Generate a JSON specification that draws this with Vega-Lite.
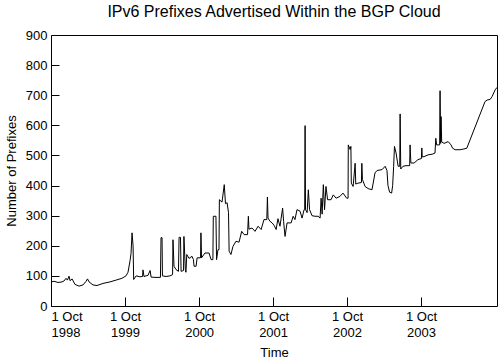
{
  "$schema": "https://vega.github.io/schema/vega-lite/v6.json",
  "width": 446,
  "height": 271,
  "autosize": "none",
  "padding": {"left": 51, "top": 35, "right": 3, "bottom": 54},
  "background": "white",
  "title": {"text": "IPv6 Prefixes Advertised Within the BGP Cloud", "font": "Liberation Sans", "fontSize": 16, "fontWeight": "normal", "color": "black", "anchor": "middle", "offset": 9},
  "config": {
    "view": {"stroke": "black", "strokeWidth": 1},
    "axis": {"labelFont": "Liberation Sans", "titleFont": "Liberation Sans", "labelFontSize": 13, "titleFontSize": 13, "titleFontWeight": "normal", "labelColor": "black", "titleColor": "black", "tickColor": "black", "domain": false, "grid": false}
  },
  "data": {"values": [
    {"date": "1998-10-01", "prefixes": 80},
    {"date": "1998-10-16", "prefixes": 82},
    {"date": "1998-11-05", "prefixes": 78},
    {"date": "1998-11-24", "prefixes": 80},
    {"date": "1998-12-04", "prefixes": 83},
    {"date": "1998-12-14", "prefixes": 92},
    {"date": "1998-12-21", "prefixes": 86},
    {"date": "1998-12-29", "prefixes": 99},
    {"date": "1999-01-03", "prefixes": 84},
    {"date": "1999-01-13", "prefixes": 90},
    {"date": "1999-01-27", "prefixes": 72},
    {"date": "1999-02-16", "prefixes": 66},
    {"date": "1999-03-08", "prefixes": 70},
    {"date": "1999-03-23", "prefixes": 82},
    {"date": "1999-03-30", "prefixes": 90},
    {"date": "1999-04-07", "prefixes": 80},
    {"date": "1999-04-26", "prefixes": 70},
    {"date": "1999-05-16", "prefixes": 68},
    {"date": "1999-06-15", "prefixes": 75},
    {"date": "1999-07-19", "prefixes": 80},
    {"date": "1999-08-18", "prefixes": 86},
    {"date": "1999-09-16", "prefixes": 92},
    {"date": "1999-10-06", "prefixes": 100},
    {"date": "1999-10-16", "prefixes": 112},
    {"date": "1999-10-26", "prefixes": 150},
    {"date": "1999-10-31", "prefixes": 175},
    {"date": "1999-11-05", "prefixes": 243},
    {"date": "1999-11-10", "prefixes": 200},
    {"date": "1999-11-13", "prefixes": 88},
    {"date": "1999-11-25", "prefixes": 100},
    {"date": "1999-12-14", "prefixes": 97},
    {"date": "1999-12-27", "prefixes": 98},
    {"date": "1999-12-29", "prefixes": 120},
    {"date": "2000-01-03", "prefixes": 98},
    {"date": "2000-01-23", "prefixes": 102},
    {"date": "2000-02-02", "prefixes": 118},
    {"date": "2000-02-07", "prefixes": 96},
    {"date": "2000-02-26", "prefixes": 95},
    {"date": "2000-03-24", "prefixes": 95},
    {"date": "2000-03-27", "prefixes": 227},
    {"date": "2000-04-01", "prefixes": 227},
    {"date": "2000-04-03", "prefixes": 100},
    {"date": "2000-04-21", "prefixes": 98},
    {"date": "2000-05-10", "prefixes": 100},
    {"date": "2000-05-23", "prefixes": 104},
    {"date": "2000-05-25", "prefixes": 220},
    {"date": "2000-05-30", "prefixes": 132},
    {"date": "2000-06-09", "prefixes": 121},
    {"date": "2000-06-21", "prefixes": 115},
    {"date": "2000-06-24", "prefixes": 228},
    {"date": "2000-07-01", "prefixes": 228},
    {"date": "2000-07-04", "prefixes": 115},
    {"date": "2000-07-16", "prefixes": 118},
    {"date": "2000-07-18", "prefixes": 231},
    {"date": "2000-07-25", "prefixes": 121},
    {"date": "2000-07-28", "prefixes": 112},
    {"date": "2000-08-01", "prefixes": 171},
    {"date": "2000-08-12", "prefixes": 158},
    {"date": "2000-08-27", "prefixes": 165},
    {"date": "2000-09-03", "prefixes": 154},
    {"date": "2000-09-06", "prefixes": 132},
    {"date": "2000-09-16", "prefixes": 132},
    {"date": "2000-09-21", "prefixes": 160},
    {"date": "2000-10-08", "prefixes": 160},
    {"date": "2000-10-10", "prefixes": 243},
    {"date": "2000-10-13", "prefixes": 160},
    {"date": "2000-10-30", "prefixes": 176},
    {"date": "2000-11-19", "prefixes": 176},
    {"date": "2000-11-29", "prefixes": 154},
    {"date": "2000-12-08", "prefixes": 154},
    {"date": "2000-12-10", "prefixes": 298},
    {"date": "2000-12-23", "prefixes": 298},
    {"date": "2000-12-26", "prefixes": 154},
    {"date": "2001-01-02", "prefixes": 187},
    {"date": "2001-01-07", "prefixes": 187},
    {"date": "2001-01-09", "prefixes": 353},
    {"date": "2001-01-22", "prefixes": 345},
    {"date": "2001-02-02", "prefixes": 403},
    {"date": "2001-02-08", "prefixes": 340},
    {"date": "2001-02-16", "prefixes": 343},
    {"date": "2001-02-23", "prefixes": 310},
    {"date": "2001-02-26", "prefixes": 182},
    {"date": "2001-03-07", "prefixes": 171},
    {"date": "2001-03-17", "prefixes": 198},
    {"date": "2001-04-01", "prefixes": 215},
    {"date": "2001-04-16", "prefixes": 212},
    {"date": "2001-04-29", "prefixes": 248},
    {"date": "2001-05-11", "prefixes": 237},
    {"date": "2001-05-28", "prefixes": 237},
    {"date": "2001-06-01", "prefixes": 298},
    {"date": "2001-06-04", "prefixes": 255},
    {"date": "2001-06-19", "prefixes": 259},
    {"date": "2001-07-04", "prefixes": 248},
    {"date": "2001-07-19", "prefixes": 265},
    {"date": "2001-08-03", "prefixes": 254},
    {"date": "2001-08-17", "prefixes": 287},
    {"date": "2001-08-31", "prefixes": 287},
    {"date": "2001-09-03", "prefixes": 362},
    {"date": "2001-09-06", "prefixes": 292},
    {"date": "2001-09-16", "prefixes": 281},
    {"date": "2001-09-26", "prefixes": 276},
    {"date": "2001-10-06", "prefixes": 268},
    {"date": "2001-10-16", "prefixes": 254},
    {"date": "2001-10-25", "prefixes": 290},
    {"date": "2001-11-04", "prefixes": 265},
    {"date": "2001-11-17", "prefixes": 325},
    {"date": "2001-11-22", "prefixes": 280},
    {"date": "2001-11-29", "prefixes": 231},
    {"date": "2001-12-09", "prefixes": 276},
    {"date": "2001-12-29", "prefixes": 276},
    {"date": "2002-01-08", "prefixes": 298},
    {"date": "2002-01-17", "prefixes": 287},
    {"date": "2002-01-27", "prefixes": 320},
    {"date": "2002-02-11", "prefixes": 315},
    {"date": "2002-02-21", "prefixes": 292},
    {"date": "2002-03-03", "prefixes": 320},
    {"date": "2002-03-06", "prefixes": 320},
    {"date": "2002-03-08", "prefixes": 599},
    {"date": "2002-03-10", "prefixes": 320},
    {"date": "2002-03-18", "prefixes": 310},
    {"date": "2002-03-24", "prefixes": 386},
    {"date": "2002-03-30", "prefixes": 320},
    {"date": "2002-04-11", "prefixes": 300},
    {"date": "2002-04-26", "prefixes": 298},
    {"date": "2002-05-11", "prefixes": 298},
    {"date": "2002-05-21", "prefixes": 292},
    {"date": "2002-05-26", "prefixes": 358},
    {"date": "2002-05-31", "prefixes": 305},
    {"date": "2002-06-06", "prefixes": 403},
    {"date": "2002-06-12", "prefixes": 320},
    {"date": "2002-06-19", "prefixes": 397},
    {"date": "2002-06-27", "prefixes": 353},
    {"date": "2002-07-14", "prefixes": 353},
    {"date": "2002-07-25", "prefixes": 369},
    {"date": "2002-08-08", "prefixes": 358},
    {"date": "2002-08-27", "prefixes": 364},
    {"date": "2002-09-11", "prefixes": 375},
    {"date": "2002-09-29", "prefixes": 358},
    {"date": "2002-10-06", "prefixes": 358},
    {"date": "2002-10-07", "prefixes": 535},
    {"date": "2002-10-16", "prefixes": 520},
    {"date": "2002-10-20", "prefixes": 530},
    {"date": "2002-10-22", "prefixes": 408},
    {"date": "2002-10-31", "prefixes": 397},
    {"date": "2002-11-10", "prefixes": 474},
    {"date": "2002-11-13", "prefixes": 405},
    {"date": "2002-11-24", "prefixes": 408},
    {"date": "2002-12-11", "prefixes": 410},
    {"date": "2002-12-13", "prefixes": 474},
    {"date": "2002-12-16", "prefixes": 420},
    {"date": "2002-12-29", "prefixes": 397},
    {"date": "2003-01-13", "prefixes": 390},
    {"date": "2003-02-01", "prefixes": 386},
    {"date": "2003-02-16", "prefixes": 442},
    {"date": "2003-02-26", "prefixes": 450},
    {"date": "2003-03-23", "prefixes": 453},
    {"date": "2003-04-07", "prefixes": 464},
    {"date": "2003-04-16", "prefixes": 450},
    {"date": "2003-04-21", "prefixes": 400},
    {"date": "2003-04-29", "prefixes": 378},
    {"date": "2003-05-09", "prefixes": 375},
    {"date": "2003-05-14", "prefixes": 400},
    {"date": "2003-05-19", "prefixes": 464},
    {"date": "2003-05-23", "prefixes": 530},
    {"date": "2003-05-31", "prefixes": 508},
    {"date": "2003-06-10", "prefixes": 464},
    {"date": "2003-06-18", "prefixes": 464},
    {"date": "2003-06-20", "prefixes": 638},
    {"date": "2003-06-23", "prefixes": 455},
    {"date": "2003-07-04", "prefixes": 464},
    {"date": "2003-07-19", "prefixes": 466},
    {"date": "2003-08-06", "prefixes": 466},
    {"date": "2003-08-08", "prefixes": 535},
    {"date": "2003-08-12", "prefixes": 475},
    {"date": "2003-08-28", "prefixes": 475},
    {"date": "2003-09-16", "prefixes": 486},
    {"date": "2003-10-03", "prefixes": 490},
    {"date": "2003-10-05", "prefixes": 525},
    {"date": "2003-10-07", "prefixes": 495},
    {"date": "2003-10-16", "prefixes": 496},
    {"date": "2003-11-05", "prefixes": 502},
    {"date": "2003-11-25", "prefixes": 504},
    {"date": "2003-12-09", "prefixes": 508},
    {"date": "2003-12-13", "prefixes": 557},
    {"date": "2003-12-17", "prefixes": 535},
    {"date": "2004-01-01", "prefixes": 535},
    {"date": "2004-01-03", "prefixes": 715},
    {"date": "2004-01-06", "prefixes": 540},
    {"date": "2004-01-08", "prefixes": 629},
    {"date": "2004-01-11", "prefixes": 545},
    {"date": "2004-01-23", "prefixes": 540},
    {"date": "2004-02-12", "prefixes": 546},
    {"date": "2004-02-26", "prefixes": 535},
    {"date": "2004-03-05", "prefixes": 524},
    {"date": "2004-03-17", "prefixes": 519},
    {"date": "2004-04-11", "prefixes": 519},
    {"date": "2004-04-26", "prefixes": 521},
    {"date": "2004-05-14", "prefixes": 524},
    {"date": "2004-08-12", "prefixes": 679},
    {"date": "2004-08-22", "prefixes": 684},
    {"date": "2004-09-06", "prefixes": 686},
    {"date": "2004-09-16", "prefixes": 696},
    {"date": "2004-10-01", "prefixes": 718},
    {"date": "2004-10-10", "prefixes": 726}
  ]},
  "mark": {"type": "line", "color": "black", "strokeWidth": 1, "clip": true},
  "encoding": {
    "x": {
      "field": "date", "type": "temporal", "title": "Time",
      "scale": {"type": "utc", "domain": [{"year": 1998, "month": 10, "date": 1, "utc": true}, {"year": 2004, "month": 10, "date": 10, "utc": true}]},
      "axis": {
        "values": [
          {"year": 1998, "month": 10, "date": 1, "utc": true},
          {"year": 1999, "month": 10, "date": 1, "utc": true},
          {"year": 2000, "month": 10, "date": 1, "utc": true},
          {"year": 2001, "month": 10, "date": 1, "utc": true},
          {"year": 2002, "month": 10, "date": 1, "utc": true},
          {"year": 2003, "month": 10, "date": 1, "utc": true}
        ],
        "labelExpr": "[utcFormat(datum.value, '%-d %b'), utcFormat(datum.value, '%Y')]",
        "labelLineHeight": 16,
        "labelFlush": true,
        "labelOverlap": false,
        "tickSize": -9,
        "labelPadding": 13.5,
        "titlePadding": 6.5
      }
    },
    "y": {
      "field": "prefixes", "type": "quantitative", "title": "Number of Prefixes",
      "scale": {"domain": [0, 900], "nice": false},
      "axis": {"values": [0, 100, 200, 300, 400, 500, 600, 700, 800, 900], "tickSize": -8, "labelPadding": 12, "titlePadding": 7}
    }
  }
}
